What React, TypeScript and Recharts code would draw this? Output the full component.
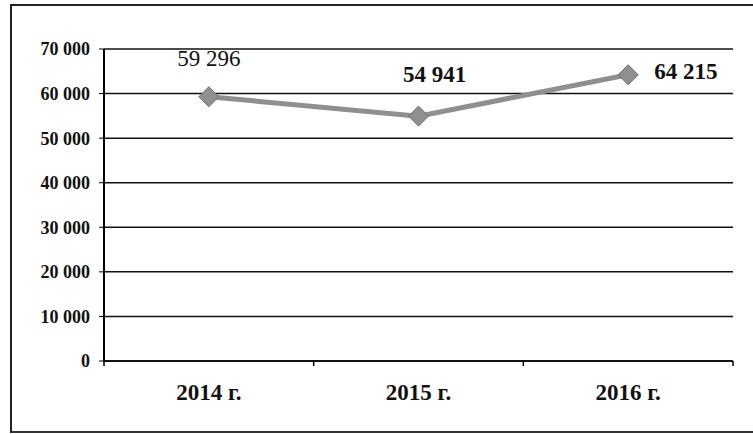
import { LineChart, Line, XAxis, YAxis, CartesianGrid, LabelList } from 'recharts';

const years = ['2014 г.', '2015 г.', '2016 г.'];
const totals = [59296, 54941, 64215];
const yTicks = [0, 10000, 20000, 30000, 40000, 50000, 60000, 70000];

const data = years.map((year, i) => ({ year, total: totals[i] }));

const FONT = '"Liberation Serif", "Times New Roman", serif';

// 59 296 style: space as thousands separator
const fmt = (v: number) => String(v).replace(/\B(?=(\d{3})+(?!\d))/g, ' ');

const Diamond = ({ cx, cy }: any) => {
    if (cx == null || cy == null) return null;
    const r = 10;
    return (
        <polygon
            points={`${cx},${cy - r} ${cx + r},${cy} ${cx},${cy + r} ${cx - r},${cy}`}
            fill="#8f8f8f"
            stroke="#6e6e6e"
            strokeWidth={1}
        />
    );
};

const renderValue = ({ x, y, value, index }: any) => {
    // first two labels sit above the point, the last one to its right
    if (index === 2) {
        return (
            <text x={x + 26} y={y - 3} textAnchor="start" dominantBaseline="central"
                fontFamily={FONT} fontSize={23} fontWeight="bold" fill="#111">
                {fmt(value)}
            </text>
        );
    }
    return (
        <text x={x + (index === 1 ? 16 : 0)} y={y - (index === 1 ? 42 : 38)} textAnchor="middle"
            dominantBaseline="central" fontFamily={FONT} fontSize={23}
            fontWeight={index === 0 ? 'normal' : 'bold'} fill="#111">
            {fmt(value)}
        </text>
    );
};

const XTick = ({ x, y, payload, index }: any) => {
    const half = payload?.offset ?? 105;
    return (
        <g>
            <line x1={x - half} y1={y - 8} x2={x - half} y2={y - 3} stroke="#000" strokeWidth={1.5} />
            {index === years.length - 1 && (
                <line x1={x + half} y1={y - 8} x2={x + half} y2={y - 3} stroke="#000" strokeWidth={1.5} />
            )}
            <text x={x} y={y + 23} textAnchor="middle" dominantBaseline="central"
                fontFamily={FONT} fontSize={23} fontWeight="bold" fill="#111">
                {payload.value}
            </text>
        </g>
    );
};

export default function App() {
    return (
        <div style={{ position: 'absolute', left: 0, top: 0, width: 753, height: 434, background: '#fff', overflow: 'hidden' }}>
            {/* outer frame of the scanned chart */}
            <div style={{
                position: 'absolute', left: 10, top: 4, width: 780, height: 425,
                borderLeft: '2px solid #222', borderTop: '2px solid #222', borderBottom: '2px solid #333',
            }} />
            <div style={{ position: 'absolute', left: 0, top: 0 }}>
                <LineChart width={753} height={434} data={data}
                    margin={{ top: 49, right: 20, bottom: 43, left: 0 }}>
                    <CartesianGrid vertical={false} stroke="#111" strokeWidth={1.5} />
                    <XAxis dataKey="year" scale="band" axisLine={{ stroke: '#000', strokeWidth: 1.5 }}
                        tickLine={false} tick={<XTick />} interval={0} />
                    <YAxis domain={[0, 70000]} ticks={yTicks} width={104} interval={0}
                        axisLine={{ stroke: '#000', strokeWidth: 2 }}
                        tickLine={{ stroke: '#000' }} tickSize={5} tickMargin={9}
                        tickFormatter={fmt}
                        tick={{ fontFamily: FONT, fontSize: 18, fontWeight: 'bold', fill: '#111' }} />
                    <YAxis yAxisId="frame" orientation="right" width={0} tick={false} tickLine={false}
                        axisLine={{ stroke: '#000', strokeWidth: 2 }} />
                    <Line dataKey="total" stroke="#8f8f8f" strokeWidth={5} dot={<Diamond />}
                        activeDot={false} isAnimationActive={false}>
                        <LabelList dataKey="total" content={renderValue} />
                    </Line>
                </LineChart>
            </div>
        </div>
    );
}
